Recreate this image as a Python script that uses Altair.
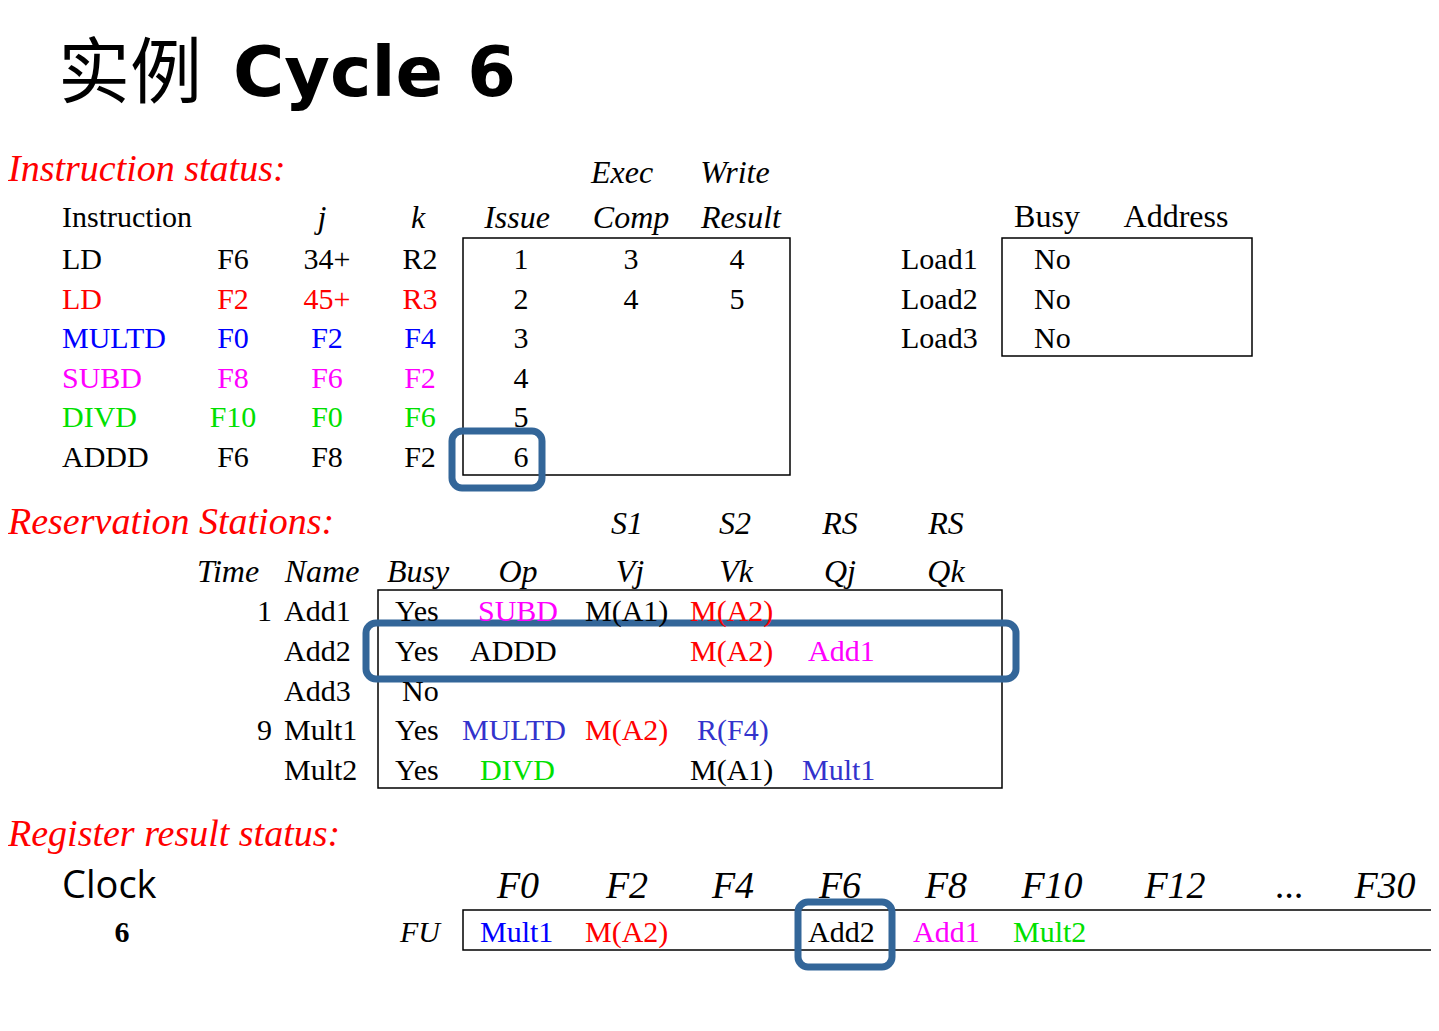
import pandas as pd
import altair as alt

W, H = 1423, 1015
M = 8  # page margin

# ---- data ----
instr_names = ["LD", "LD", "MULTD", "SUBD", "DIVD", "ADDD"]
instr_dest = ["F6", "F2", "F0", "F8", "F10", "F6"]
instr_j = ["34+", "45+", "F2", "F6", "F0", "F8"]
instr_k = ["R2", "R3", "F4", "F2", "F6", "F2"]
instr_issue = ["1", "2", "3", "4", "5", "6"]
instr_comp = ["3", "4", "", "", "", ""]
instr_write = ["4", "5", "", "", "", ""]
instr_colors = ["black", "#ff0000", "#0000ff", "#ff00ff", "#00e000", "black"]

load_names = ["Load1", "Load2", "Load3"]
load_busy = ["No", "No", "No"]

rs_time = ["1", "", "", "9", ""]
rs_name = ["Add1", "Add2", "Add3", "Mult1", "Mult2"]
rs_busy = ["Yes", "Yes", "No", "Yes", "Yes"]
rs_op = [("SUBD", "#ff00ff"), ("ADDD", "black"), ("", "black"), ("MULTD", "#3333cc"), ("DIVD", "#00e000")]
rs_vj = [("M(A1)", "black"), ("", "black"), ("", "black"), ("M(A2)", "#ff0000"), ("", "black")]
rs_vk = [("M(A2)", "#ff0000"), ("M(A2)", "#ff0000"), ("", "black"), ("R(F4)", "#3333cc"), ("M(A1)", "black")]
rs_qj = [("", "black"), ("Add1", "#ff00ff"), ("", "black"), ("", "black"), ("Mult1", "#3333cc")]

regs = ["F0", "F2", "F4", "F6", "F8", "F10", "F12", "...", "F30"]
reg_fu = [("Mult1", "#0000ff"), ("M(A2)", "#ff0000"), ("", "black"), ("Add2", "black"),
          ("Add1", "#ff00ff"), ("Mult2", "#00e000"), ("", "black"), ("", "black"), ("", "black")]
clock = "6"

# ---- layout ----
ins_rows = [260, 300, 339, 379, 418, 458]
rs_rows = [612, 652, 692, 731, 771]
reg_x = [518, 627, 733, 840, 946, 1052, 1175, 1290, 1385]
reg_val_x = [480, 585, 0, 808, 913, 1013, 0, 0, 0]

texts = []
def t(s, x, y, color="black", size=30, italic=False, bold=False, align="left", font="Liberation Serif"):
    if s == "":
        return
    texts.append(dict(text=s, x=x - M, y=y - M, color=color, size=size,
                      style="italic" if italic else "normal",
                      weight="bold" if bold else "normal", align=align, font=font))

# section titles
t("Instruction status:", 8, 170, "#ff0000", 38, italic=True)
t("Reservation Stations:", 8, 523, "#ff0000", 38, italic=True)
t("Register result status:", 8, 835, "#ff0000", 38, italic=True)

# instruction status headers
t("Exec", 622, 173, size=32, italic=True, align="center")
t("Write", 735, 173, size=32, italic=True, align="center")
t("Instruction", 62, 218, size=30)
for s, x in [("j", 322), ("k", 418), ("Issue", 517), ("Comp", 631), ("Result", 741)]:
    t(s, x, 218, size=32, italic=True, align="center")
t("Busy", 1047, 217, size=32, align="center")
t("Address", 1176, 217, size=32, align="center")

for i, y in enumerate(ins_rows):
    c = instr_colors[i]
    t(instr_names[i], 62, y, c)
    t(instr_dest[i], 233, y, c, align="center")
    t(instr_j[i], 327, y, c, align="center")
    t(instr_k[i], 420, y, c, align="center")
    t(instr_issue[i], 521, y, align="center")
    t(instr_comp[i], 631, y, align="center")
    t(instr_write[i], 737, y, align="center")
for i in range(3):
    t(load_names[i], 901, ins_rows[i])
    t(load_busy[i], 1034, ins_rows[i])

# reservation stations
for s, x in [("S1", 627), ("S2", 735), ("RS", 840), ("RS", 946)]:
    t(s, x, 524, size=32, italic=True, align="center")
for s, x in [("Time", 228), ("Name", 322), ("Busy", 418), ("Op", 518), ("Vj", 630),
             ("Vk", 736), ("Qj", 840), ("Qk", 946)]:
    t(s, x, 572, size=32, italic=True, align="center")
for i, y in enumerate(rs_rows):
    t(rs_time[i], 272, y, align="right")
    t(rs_name[i], 284, y)
    t(rs_busy[i], 402 if rs_busy[i] == "No" else 395, y)
    t(rs_op[i][0], {"SUBD": 478, "ADDD": 470, "MULTD": 462, "DIVD": 480}.get(rs_op[i][0], 470), y, rs_op[i][1])
    t(rs_vj[i][0], 585, y, rs_vj[i][1])
    t(rs_vk[i][0], 697 if rs_vk[i][0] == "R(F4)" else 690, y, rs_vk[i][1])
    t(rs_qj[i][0], 802 if rs_qj[i][0] == "Mult1" else 808, y, rs_qj[i][1])

# register result status
t("Clock", 62, 887, size=38, font="Open Sans")
t(clock, 122, 933, size=30, bold=True, align="center")
t("FU", 420, 933, size=30, italic=True, align="center")
for i, r in enumerate(regs):
    t(r, reg_x[i], 887, size=38, italic=True, align="center")
    t(reg_fu[i][0], reg_val_x[i], 933, reg_fu[i][1])

df = pd.DataFrame(texts)

boxes = pd.DataFrame([
    dict(x=463, x2=790, y=238, y2=475),
    dict(x=1002, x2=1252, y=238, y2=356),
    dict(x=378, x2=1002, y=590, y2=788),
    dict(x=463, x2=1437, y=910, y2=950),
])
highlights = pd.DataFrame([
    dict(x=452, x2=542, y=431, y2=488),
    dict(x=366, x2=1016, y=623, y2=679),
    dict(x=798, x2=892, y=902, y2=967),
])
for d in (boxes, highlights):
    for c in ["x", "x2", "y", "y2"]:
        d[c] = d[c] - M

xs = alt.Scale(domain=[0, W], range=[0, W])
ys = alt.Scale(domain=[0, H], range=[0, H])
noax = dict(axis=None)

box_layer = alt.Chart(boxes).mark_rect(fill=None, stroke="black", strokeWidth=1.5).encode(
    x=alt.X("x:Q", scale=xs, **noax), x2="x2", y=alt.Y("y:Q", scale=ys, **noax), y2="y2")
hl_layer = alt.Chart(highlights).mark_rect(fill=None, stroke="#336699", strokeWidth=7, cornerRadius=10).encode(
    x=alt.X("x:Q", scale=xs, **noax), x2="x2", y=alt.Y("y:Q", scale=ys, **noax), y2="y2")

layers = []
for (font, size, style, weight, align), g in df.groupby(["font", "size", "style", "weight", "align"]):
    layers.append(alt.Chart(g).mark_text(font=font, fontSize=size, fontStyle=style, fontWeight=weight,
                                         align=align, baseline="middle").encode(
        x=alt.X("x:Q", scale=xs, **noax), y=alt.Y("y:Q", scale=ys, **noax),
        text="text:N", color=alt.Color("color:N", scale=None)))

title_df = pd.DataFrame([dict(text="实例", x=58 - M, y=75 - M), dict(text="Cycle 6", x=233 - M, y=75 - M)])
title_cjk = alt.Chart(title_df.iloc[[0]]).mark_text(font="Noto Sans CJK SC", fontSize=72, align="left",
                                                   baseline="middle", color="black").encode(
    x=alt.X("x:Q", scale=xs, **noax), y=alt.Y("y:Q", scale=ys, **noax), text="text:N")
title_lat = alt.Chart(title_df.iloc[[1]]).mark_text(font="DejaVu Sans", fontSize=70, fontWeight="bold",
                                                   align="left", baseline="middle", color="black").encode(
    x=alt.X("x:Q", scale=xs, **noax), y=alt.Y("y:Q", scale=ys, **noax), text="text:N")

chart = alt.layer(box_layer, hl_layer, title_cjk, title_lat, *layers).properties(
    width=W, height=H, autosize="none", padding=0
).configure_view(stroke=None)

chart.save("out.html", embed_options={"renderer": "svg", "actions": False})
